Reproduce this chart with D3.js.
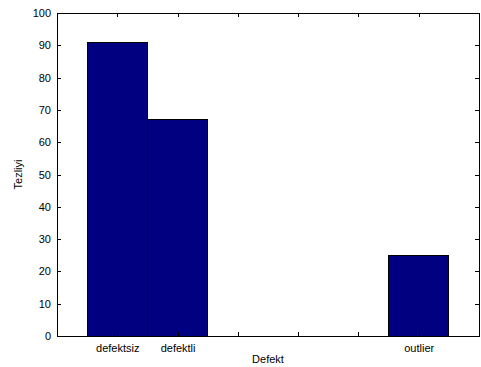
<!DOCTYPE html>
<html><head><meta charset="utf-8">
<script src="https://cdn.jsdelivr.net/npm/d3@7"></script>
<style>
body{margin:0;background:#fff;}
text{font-family:"Liberation Sans",Arial,Helvetica,sans-serif;font-size:11px;fill:#000;}
</style></head>
<body>
<svg id="c" width="481" height="367"></svg>
<script>
const categories = ["defektsiz","defektli","","","","outlier"];
const values = [91,67,0,0,0,25];
const yTicks = [0,10,20,30,40,50,60,70,80,90,100];

const svg = d3.select("#c");
const L=57, R=479, T=13, B=336;
const x = d3.scaleLinear().domain([0,categories.length+1]).range([L,R]);
const y = d3.scaleLinear().domain([0,100]).range([B,T]);
const pos = categories.map((d,i)=>i+1);

svg.append("rect").attr("x",L).attr("y",T).attr("width",R-L).attr("height",B-T).attr("fill","#fff");

// bars
svg.selectAll("rect.bar").data(values).enter().append("rect")
  .attr("class","bar")
  .attr("x",(d,i)=>x(pos[i]-0.5)).attr("width",(d,i)=>x(pos[i]+0.5)-x(pos[i]-0.5))
  .attr("y",d=>y(d)).attr("height",d=>y(0)-y(d))
  .attr("fill","#000080").attr("stroke","#000").attr("stroke-width",1)
  .attr("shape-rendering","crispEdges");

const tl=4;
// y axes
const yl = d3.axisLeft(y).tickValues(yTicks).tickSizeInner(-tl).tickSizeOuter(0).tickPadding(6);
const gyl = svg.append("g").attr("transform",`translate(${L},0)`).call(yl);
const yr = d3.axisRight(y).tickValues(yTicks).tickSizeInner(-tl).tickSizeOuter(0).tickFormat("");
const gyr = svg.append("g").attr("transform",`translate(${R},0)`).call(yr);
// x axes
const xb = d3.axisBottom(x).tickValues(pos).tickSizeInner(-tl).tickSizeOuter(0).tickPadding(8)
  .tickFormat((d,i)=>categories[i]);
const gxb = svg.append("g").attr("transform",`translate(0,${B})`).call(xb);
const xt = d3.axisTop(x).tickValues(pos).tickSizeInner(-tl).tickSizeOuter(0).tickFormat("");
const gxt = svg.append("g").attr("transform",`translate(0,${T})`).call(xt);

[gyl,gyr,gxb,gxt].forEach(g=>{
  g.selectAll("path.domain").attr("stroke","#000").attr("shape-rendering","crispEdges");
  g.selectAll(".tick line").attr("stroke","#000").attr("shape-rendering","crispEdges");
  g.selectAll("text").attr("font-family","Liberation Sans, Arial, sans-serif").attr("font-size",11).attr("fill","#000");
});
gyl.selectAll("text").attr("font-size",11);
gxb.selectAll("text").attr("font-size",11);

svg.append("text").attr("x",(L+R)/2).attr("y",363).attr("text-anchor","middle").text("Defekt");
svg.append("text").attr("transform",`translate(22,${(T+B)/2}) rotate(-90)`).attr("text-anchor","middle").text("Tezliyi");
</script>
</body></html>
